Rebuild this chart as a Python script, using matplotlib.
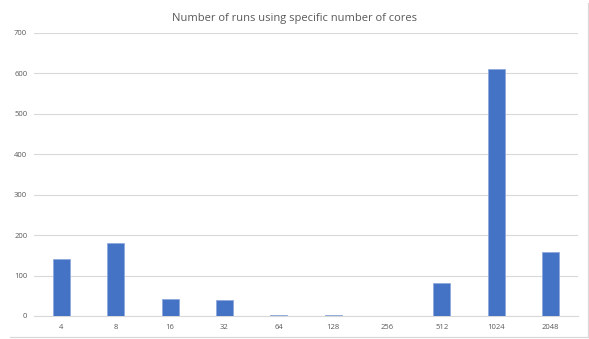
import matplotlib
matplotlib.use("Agg")
import matplotlib.pyplot as plt
from matplotlib.lines import Line2D

cores = ["4", "8", "16", "32", "64", "128", "256", "512", "1024", "2048"]
runs = [141, 181, 41, 40, 3, 2, 0, 81, 610, 158]

plt.rcParams['font.family'] = ['Open Sans', 'DejaVu Sans']

fig = plt.figure(figsize=(5.89, 3.39), dpi=100)
ax = fig.add_axes([0.058, 0.068, 0.923, 0.835])

x = range(len(cores))
ax.bar(x, runs, width=0.31, color="#4472C4", edgecolor="#8FAADC", linewidth=0.6, zorder=3)

ax.set_xlim(-0.5, len(cores) - 0.5)
ax.set_ylim(0, 700)
ax.set_yticks(range(0, 701, 100))
ax.set_xticks(list(x))
ax.set_xticklabels(cores)
ax.tick_params(axis="both", length=0, labelsize=5.5, colors="#595959")
ax.tick_params(axis="x", pad=6)
ax.tick_params(axis="y", pad=5)
ax.grid(axis="y", color="#D9D9D9", linewidth=0.8, zorder=0)
for side in ["top", "right", "left"]:
    ax.spines[side].set_visible(False)
ax.spines["bottom"].set_color("#D9D9D9")
ax.spines["bottom"].set_linewidth(0.8)

fig.text(0.5, 0.945, "Number of runs using specific number of cores",
         ha="center", va="center", fontsize=8, color="#595959")

# edge of the chart box along the right and bottom
fig.lines.append(Line2D([0.017, 0.998], [0.006, 0.006], transform=fig.transFigure,
                        color="#D9D9D9", linewidth=0.9))
fig.lines.append(Line2D([0.998, 0.998], [0.006, 0.99], transform=fig.transFigure,
                        color="#D9D9D9", linewidth=0.9))

fig.savefig("out.png", dpi=100)
